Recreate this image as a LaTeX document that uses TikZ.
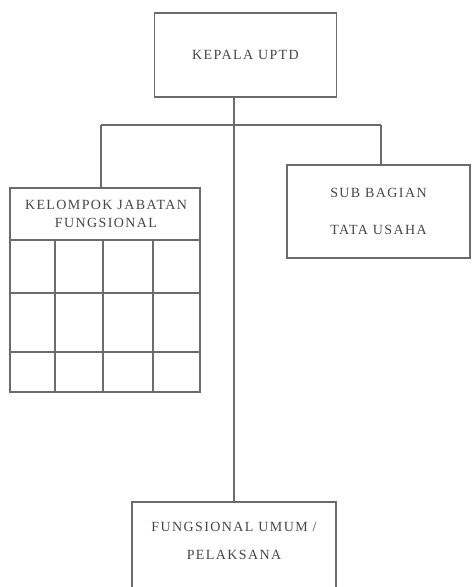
\documentclass[tikz,border=0pt]{standalone}
\usepackage{fontspec}
\setmainfont[LetterSpace=10]{Liberation Serif}
\begin{document}
\begin{tikzpicture}[x=1pt,y=-1pt,
  line/.style={draw=black!58,line width=1.3pt},
  box/.style={line,rectangle,inner sep=0pt},
  label/.style={text=black!72,font=\fontsize{14}{16}\selectfont,align=center,inner sep=0pt}]
  % page
  \fill[white] (0,0) rectangle (473,587);
  \useasboundingbox (0,0) rectangle (473,587);

  % head of the unit
  \node[box,minimum width=182pt,minimum height=84pt] (kepala) at (245.5,55) {};
  \node[label] (kepalat) at (kepala.center) {KEPALA UPTD};

  % functional group with its table
  \node[box,minimum width=190pt,minimum height=204pt] (kjf) at (105,290) {};
  \node[label] (kjft) at (106,214) {KELOMPOK JABATAN\\[2pt]FUNGSIONAL};
  \draw[line] (10,240) -- (200,240)
              (10,293) -- (200,293)
              (10,352) -- (200,352)
              (55,240) -- (55,392)
              (103,240) -- (103,392)
              (153,240) -- (153,392);

  % administration section
  \node[box,minimum width=183pt,minimum height=93pt] (sub) at (378.5,211.5) {};
  \node[label] (subt) at (sub.center) {SUB BAGIAN\\[21pt]TATA USAHA};

  % general staff, running off the page
  \node[box,minimum width=204pt,minimum height=100pt] (fu) at (234,552) {};
  \node[label] (fut) at (234,541) {FUNGSIONAL UMUM /\\[12pt]PELAKSANA};

  % connectors
  \coordinate (busL) at (101,125);
  \coordinate (busR) at (381,125);
  \draw[line] (kepala.south -| fu.north) -- (fu.north);
  \draw[line] (busL) -- (busR);
  \draw[line] (busL) -- (busL |- kjf.north);
  \draw[line] (busR) -- (busR |- sub.north);
\end{tikzpicture}
\end{document}
